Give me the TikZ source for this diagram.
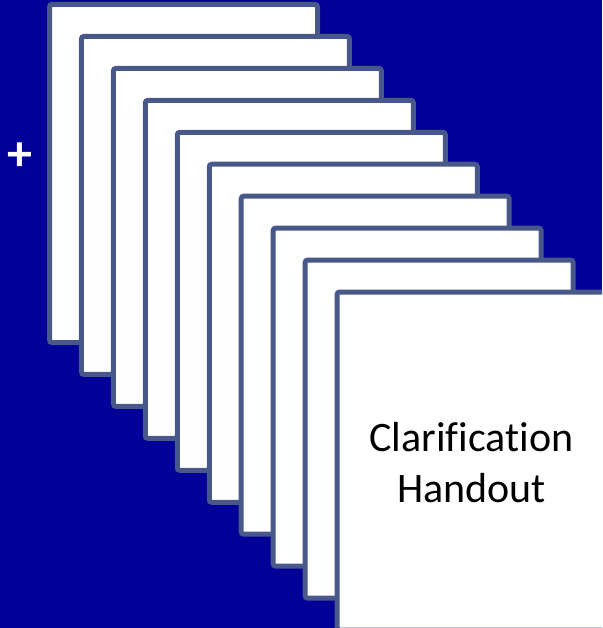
\documentclass[tikz,border=0pt]{standalone}
\usepackage{fontspec}
\setmainfont[Ligatures=NoCommon]{Carlito}
\definecolor{bgblue}{RGB}{0,0,153}
\definecolor{cardedge}{RGB}{72,88,137}
\begin{document}
\begin{tikzpicture}[x=1pt,y=-1pt,
  card/.style={draw=cardedge,fill=white,line width=5pt,rounded corners=2.5pt},
  label/.style={font=\fontsize{42}{51}\selectfont,align=center,text=black}]
\fill[bgblue] (0,0) rectangle (602,628);
\useasboundingbox (0,0) rectangle (602,628);
\clip (0,0) rectangle (602,628);
\foreach \i in {0,...,9}{
  \draw[card] (49.5+31.95*\i,4.5+31.95*\i) rectangle ++(268,338);
}
\node[label] (handout) at (471.5,462.5) {Clarification\\Handout};
\node[text=white,font=\bfseries\fontsize{50}{50}\selectfont,inner sep=0pt] (plus) at (20,157) {+};
\end{tikzpicture}
\end{document}
